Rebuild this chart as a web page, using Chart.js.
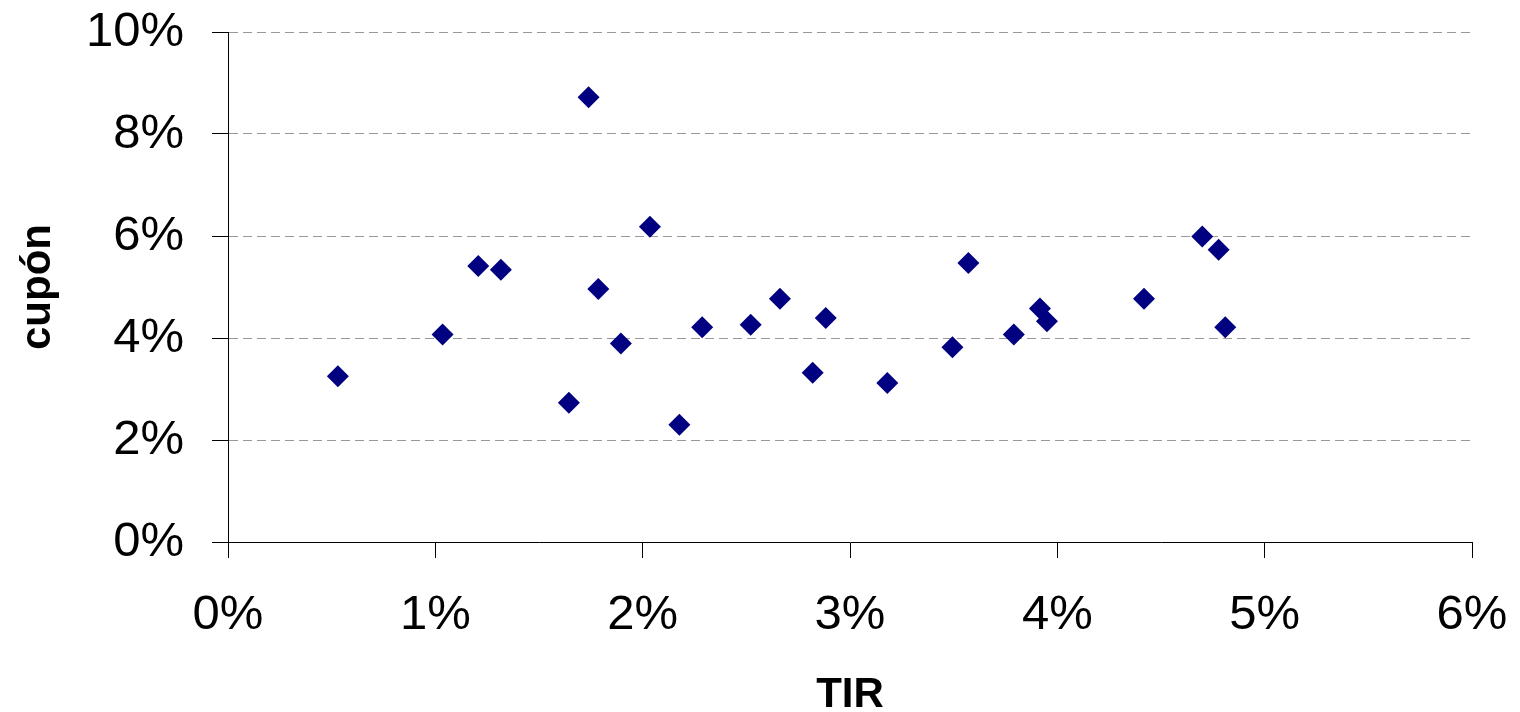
<!DOCTYPE html>
<html>
<head>
<meta charset="utf-8">
<title>cupón vs TIR</title>
<script src="https://cdn.jsdelivr.net/npm/chart.js@4"></script>
<style>
    html, body { margin: 0; padding: 0; background: #fff; }
    #wrap { width: 1520px; height: 712px; }
</style>
</head>
<body>
<div id="wrap"><canvas id="scatterChart"></canvas></div>
<script>
// TIR (x) and cupón (y), both in percent
const tir = [0.53, 1.035, 1.207, 1.316, 1.644, 1.739, 1.786, 1.895, 2.035, 2.177, 2.287, 2.521, 2.662,
             2.82, 2.883, 3.18, 3.494, 3.571, 3.79, 3.916, 3.95, 4.418, 4.699, 4.778, 4.81];
const cupon = [3.25, 4.07, 5.41, 5.34, 2.73, 8.72, 4.96, 3.89, 6.18, 2.30, 4.21, 4.26, 4.77,
               3.32, 4.39, 3.12, 3.82, 5.47, 4.07, 4.58, 4.33, 4.77, 5.99, 5.73, 4.21];

const xTickLabels = ['0%', '1%', '2%', '3%', '4%', '5%', '6%'];
const yTickLabels = ['0%', '2%', '4%', '6%', '8%', '10%'];

const points = tir.map((x, i) => ({ x: x, y: cupon[i] }));

const tickFont = { family: '"Liberation Sans", Arial, sans-serif', size: 49 };
const titleFont = { family: '"Liberation Sans", Arial, sans-serif', size: 42, weight: 'bold' };

new Chart(document.getElementById('scatterChart'), {
    type: 'scatter',
    data: {
        datasets: [{
            label: 'cupón',
            data: points,
            pointStyle: 'rectRot',
            pointRadius: 11,
            pointHoverRadius: 11,
            borderWidth: 0,
            backgroundColor: '#000080',
            borderColor: '#000080'
        }]
    },
    options: {
        responsive: true,
        maintainAspectRatio: false,
        animation: false,
        layout: {
            padding: { top: 32, right: 48, left: 0, bottom: 0 }
        },
        plugins: {
            legend: { display: false },
            tooltip: { enabled: false }
        },
        scales: {
            x: {
                type: 'linear',
                min: 0,
                max: 6,
                afterFit: (scale) => {
                    scale.height = 170;
                    // let the layout padding decide the side margins
                    scale.paddingLeft = 0;
                    scale.paddingRight = 0;
                },
                ticks: {
                    stepSize: 1,
                    color: '#000',
                    font: tickFont,
                    padding: 28,
                    maxRotation: 0,
                    callback: (v) => xTickLabels[Math.round(v)]
                },
                grid: {
                    drawOnChartArea: false,
                    drawTicks: true,
                    tickLength: 16,
                    tickColor: '#000'
                },
                border: { color: '#000', width: 1 },
                title: {
                    display: true,
                    text: 'TIR',
                    color: '#000',
                    font: titleFont,
                    padding: { top: 0, bottom: -9 }
                }
            },
            y: {
                type: 'linear',
                min: 0,
                max: 10,
                afterFit: (scale) => {
                    scale.width = 228;
                    scale.paddingTop = 0;
                    scale.paddingBottom = 0;
                },
                ticks: {
                    stepSize: 2,
                    color: '#000',
                    font: tickFont,
                    padding: 28,
                    callback: (v) => yTickLabels[Math.round(v / 2)]
                },
                grid: {
                    color: (ctx) => ctx.tick && ctx.tick.value === 0 ? 'rgba(0,0,0,0)' : '#999',
                    drawTicks: true,
                    tickLength: 16,
                    tickColor: '#000',
                    tickBorderDash: []
                },
                border: { color: '#000', width: 1, dash: [9, 5] },
                title: {
                    display: true,
                    text: 'cupón',
                    color: '#000',
                    font: titleFont,
                    padding: { top: 13, bottom: 0 }
                }
            }
        }
    }
});
</script>
</body>
</html>
